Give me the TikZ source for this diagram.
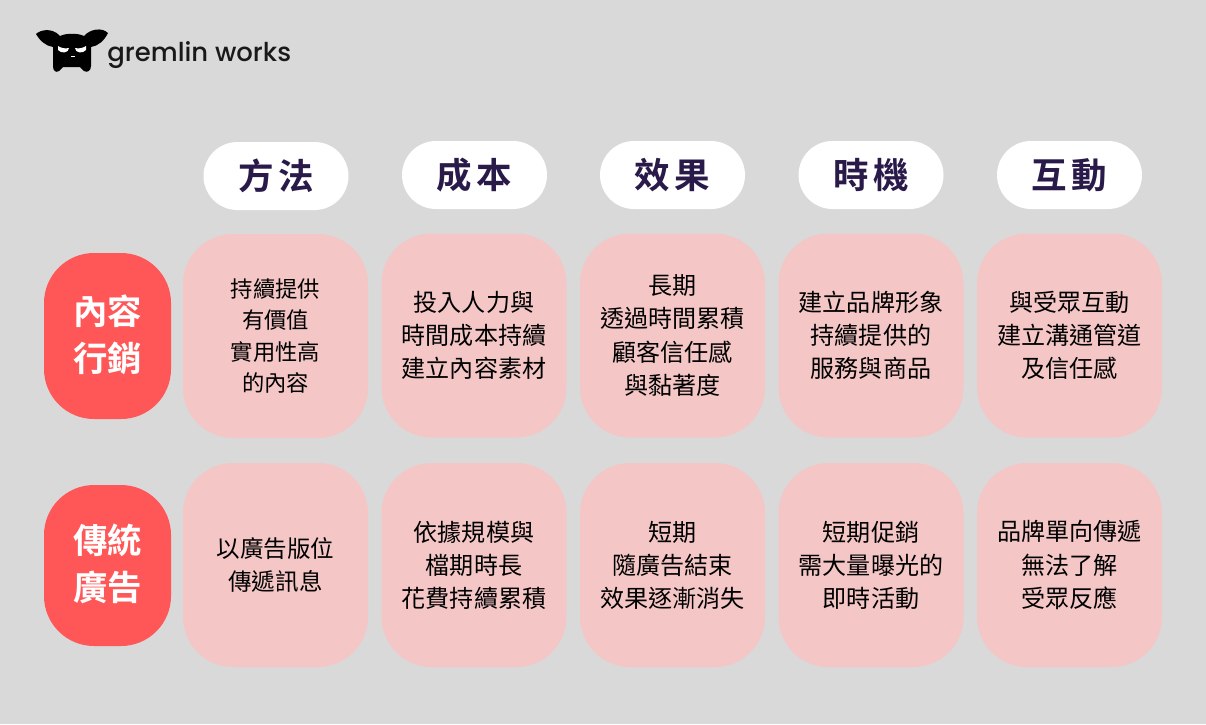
\documentclass[tikz,border=0pt]{standalone}
\usepackage{fontspec}
\setmainfont{Noto Sans CJK TC}
\newfontfamily\logofont{Poppins Medium}
\newfontfamily\headfont[LetterSpace=14]{Noto Sans CJK TC Bold}
\newfontfamily\sidefont{Noto Sans CJK TC Bold}
\definecolor{tlo}{HTML}{D9D9D9}
\definecolor{roz}{HTML}{F4C6C6}
\definecolor{czerw}{HTML}{FF5757}
\definecolor{fiolet}{HTML}{2A1A4A}
\tikzset{
  headbox/.style={fill=white,rounded corners=34*0.02cm,minimum width=145*0.02cm,minimum height=68*0.02cm,text=fiolet,font=\headfont\fontsize{20.2}{24}\selectfont},
  cellbox/.style={fill=roz,rounded corners=1cm,minimum width=185*0.02cm,minimum height=204*0.02cm,align=center,text=black,font=\fontsize{13.7}{18.8}\selectfont},
  sidebox/.style={fill=czerw,rounded corners=1cm,minimum width=127*0.02cm,align=center,text=white,font=\sidefont\fontsize{19.6}{26.8}\selectfont},
}
\begin{document}
\begin{tikzpicture}[x=0.02cm,y=-0.02cm,inner sep=0.4mm]

\fill [tlo] (0,0) rectangle (1206,724);
\useasboundingbox (0,0) rectangle (1206,724);

%naglowki
\node [headbox] (metoda) at (276,176) {方法};
\node [headbox] (koszt) at (474.5,175) {成本};
\node [headbox] (efekt) at (672.5,175) {效果};
\node [headbox] (czas) at (871,175) {時機};
\node [headbox] (relacja) at (1069.5,175) {互動};

%lewa strona
\node [sidebox,minimum height=166*0.02cm] (tresc) at (107.5,336) {內容\\行銷\rule[-3.7pt]{0pt}{1pt}};
\node [sidebox,minimum height=161*0.02cm] (reklama) at (107.5,565.5) {傳統\\廣告\rule[-3.7pt]{0pt}{1pt}};

%pierwszy rzad
\node [cellbox,font=\fontsize{12.7}{17.8}\selectfont] (a1) at (275.5,336) {持續提供\\有價值\\實用性高\\的內容};
\node [cellbox] (a2) at (474,335.5) {投入人力與\\時間成本持續\\建立內容素材};
\node [cellbox] (a3) at (672.5,335.5) {長期\\透過時間累積\\顧客信任感\\與黏著度};
\node [cellbox] (a4) at (871,335.5) {建立品牌形象\\持續提供的\\服務與商品};
\node [cellbox] (a5) at (1069.5,335.5) {與受眾互動\\建立溝通管道\\及信任感};

%drugi rzad
\node [cellbox,font=\fontsize{13.4}{18.8}\selectfont] (b1) at (275.5,565) {以廣告版位\\傳遞訊息};
\node [cellbox] (b2) at (474,565) {依據規模與\\檔期時長\\花費持續累積};
\node [cellbox] (b3) at (672.5,565) {短期\\隨廣告結束\\效果逐漸消失};
\node [cellbox] (b4) at (871,565) {短期促銷\\需大量曝光的\\即時活動};
\node [cellbox] (b5) at (1069.5,565) {品牌單向傳遞\\無法了解\\受眾反應};

%logo
\fill [black] (36,34) .. controls (40,30) and (52,27) .. (60,36) .. controls (66,33) and (78,33) .. (84,36) .. controls (90,29) and (102,27) .. (108,33) .. controls (104,41) and (98,46) .. (91,47) -- (91,66) .. controls (91,71) and (87,73) .. (84,71) -- (80,67) -- (63,67) -- (59,71) .. controls (56,73) and (53,71) .. (53,66) -- (53,47) .. controls (46,46) and (40,41) .. (36,34) -- cycle;
\fill [white] (58,46) .. controls (61,48) and (65,49) .. (69,48) .. controls (69,53) and (61,54) .. (58,50) -- cycle;
\fill [white] (86,46) .. controls (83,48) and (79,49) .. (75,48) .. controls (75,53) and (83,54) .. (86,50) -- cycle;
\fill [white] (71,56) rectangle (75,57);
\node [anchor=west,font=\logofont\fontsize{14.75}{18}\selectfont,text=black!90] (nazwa) at (105,55) {gremlin works};

\end{tikzpicture}
\end{document}
